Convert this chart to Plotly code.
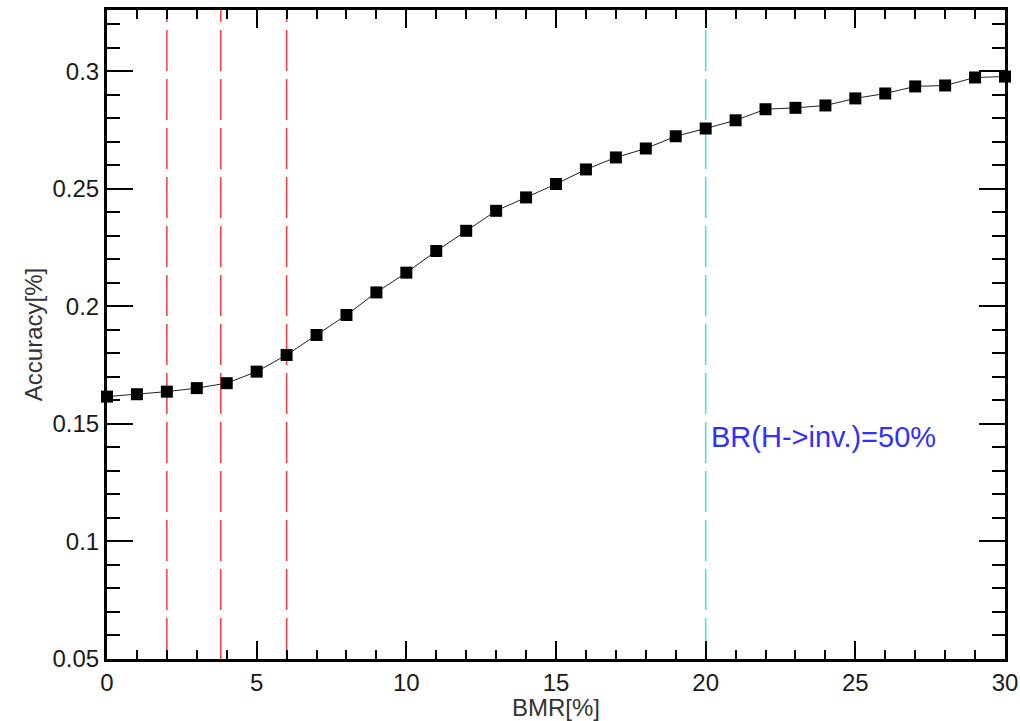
import plotly.graph_objects as go

bmr = list(range(0, 31))
accuracy = [0.1616, 0.1626, 0.1637, 0.1652, 0.1673, 0.1722, 0.1793, 0.1878, 0.1963, 0.2059,
            0.2143, 0.2235, 0.2321, 0.2406, 0.2463, 0.2520, 0.2582, 0.2633, 0.2671, 0.2723,
            0.2756, 0.2791, 0.2838, 0.2844, 0.2854, 0.2884, 0.2905, 0.2935, 0.2939, 0.2973,
            0.2977]
red_lines_x = [2, 3.8, 6]
cyan_line_x = [20]
annotation_text = "BR(H->inv.)=50%"
x_range = [0, 30]
y_range = [0.05, 0.326]

fig = go.Figure()
fig.add_trace(go.Scatter(
    x=bmr, y=accuracy, mode="lines+markers",
    line=dict(color="#222222", width=1),
    marker=dict(symbol="square", size=12, color="black"),
    showlegend=False, cliponaxis=False,
))

for xv in red_lines_x:
    fig.add_shape(type="line", xref="x", yref="y", x0=xv, x1=xv, y0=y_range[0], y1=y_range[1],
                  line=dict(color="#ff3b3b", width=1.5, dash="41px,8px"), layer="below")
for xv in cyan_line_x:
    fig.add_shape(type="line", xref="x", yref="y", x0=xv, x1=xv, y0=y_range[0], y1=y_range[1],
                  line=dict(color="#2fe3f0", width=1.5, dash="41px,8px"), layer="below")

fig.add_annotation(x=cyan_line_x[0], y=0.1445, xref="x", yref="y", text=annotation_text, showarrow=False,
                   xanchor="left", yanchor="middle", xshift=3,
                   font=dict(family="Liberation Sans, Arial", size=29, color="#3030ff"))

axis_common = dict(
    showgrid=False, zeroline=False, showline=True, linecolor="black", linewidth=3,
    mirror="allticks", ticks="inside", tickcolor="black", tickwidth=1.5,
    tickfont=dict(family="Liberation Sans, Arial", size=24, color="#1a1a1a"),
)
fig.update_xaxes(range=x_range, tick0=0, dtick=5, ticklen=18, automargin=False,
                 minor=dict(ticks="inside", dtick=1, ticklen=9, tickcolor="black", tickwidth=1.5),
                 title=dict(text="BMR[%]", font=dict(family="Liberation Sans, Arial", size=24, color="#333333")),
                 **axis_common)
fig.update_yaxes(range=y_range, tick0=0.05, dtick=0.05, ticklen=26, tickformat="~g", automargin=True,
                 minor=dict(ticks="inside", dtick=0.01, ticklen=13, tickcolor="black", tickwidth=1.5),
                 title=dict(text="Accuracy[%]", standoff=4,
                            font=dict(family="Liberation Sans, Arial", size=24, color="#333333")),
                 **axis_common)

fig.update_layout(
    width=1020, height=721,
    margin=dict(l=107, r=15, t=10, b=62),
    paper_bgcolor="white", plot_bgcolor="white",
)

fig.write_html("out.html")
